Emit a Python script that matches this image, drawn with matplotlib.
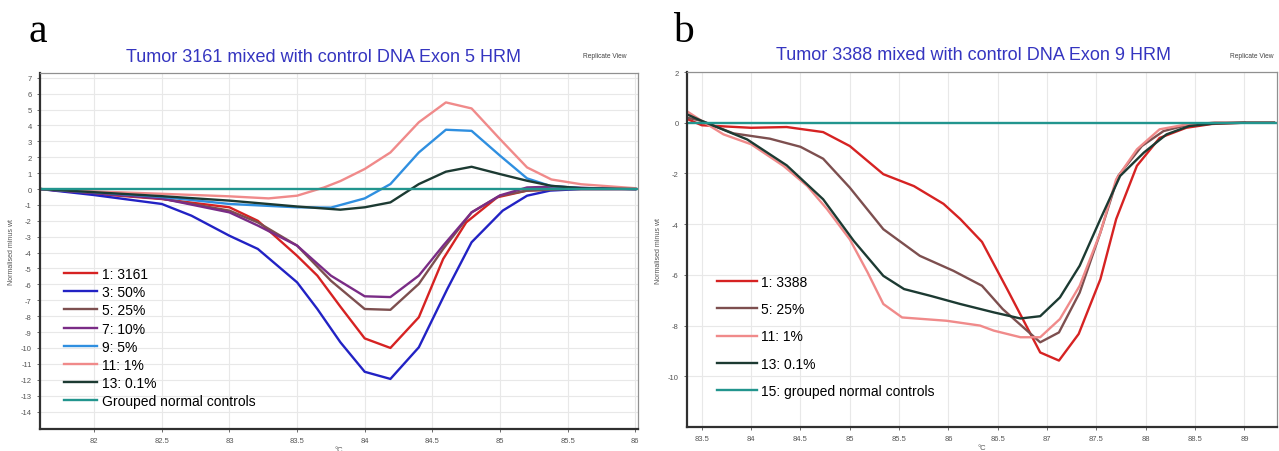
import matplotlib
matplotlib.use('Agg')
import matplotlib.pyplot as plt
import numpy as np

plt.rcParams['font.family'] = ['Liberation Sans', 'DejaVu Sans']
plt.rcParams['axes.unicode_minus'] = False

# ---- panel a: Exon 5 ----
a_t1 = [81.6, 82.0, 82.5, 83.0, 83.21, 83.5, 83.65, 83.82, 84.0, 84.19, 84.40, 84.58, 84.75, 84.98, 85.2, 85.5, 86.0]
a_v1 = [0, -0.3, -0.63, -1.15, -2.0, -4.2, -5.45, -7.4, -9.4, -10.0, -8.07, -4.4, -2.1, -0.52, -0.1, 0, 0]
a_t3 = [81.6, 82.0, 82.5, 82.72, 83.0, 83.21, 83.5, 83.65, 83.82, 84.0, 84.19, 84.40, 84.61, 84.79, 85.02, 85.2, 85.37, 85.6, 86.0]
a_v3 = [0, -0.38, -0.94, -1.68, -2.94, -3.77, -5.87, -7.55, -9.64, -11.5, -11.95, -9.96, -6.3, -3.35, -1.36, -0.42, -0.1, 0, 0]
a_t5 = [81.6, 82.0, 82.5, 83.0, 83.21, 83.5, 83.75, 84.0, 84.19, 84.40, 84.58, 84.79, 85.0, 85.2, 85.5, 86.0]
a_v5 = [0, -0.25, -0.6, -1.36, -2.1, -3.56, -5.77, -7.55, -7.6, -5.97, -3.77, -1.47, -0.42, -0.1, 0, 0]
a_t7 = [81.6, 82.0, 82.5, 83.0, 83.21, 83.5, 83.75, 84.0, 84.19, 84.40, 84.58, 84.79, 85.0, 85.2, 85.4, 85.7, 86.0]
a_v7 = [0, -0.25, -0.6, -1.47, -2.3, -3.56, -5.45, -6.75, -6.8, -5.45, -3.56, -1.47, -0.4, 0.1, 0.15, 0.05, 0]
a_t9 = [81.6, 82.0, 82.5, 83.0, 83.5, 83.75, 84.0, 84.19, 84.40, 84.6, 84.79, 85.0, 85.2, 85.37, 85.6, 86.0]
a_v9 = [0, -0.2, -0.5, -0.94, -1.15, -1.17, -0.59, 0.31, 2.3, 3.73, 3.66, 2.1, 0.67, 0.2, 0.05, 0]
a_t11 = [81.6, 82.0, 82.5, 83.0, 83.29, 83.5, 83.7, 83.82, 84.0, 84.19, 84.40, 84.6, 84.79, 85.0, 85.2, 85.38, 85.6, 86.0]
a_v11 = [0, -0.15, -0.3, -0.46, -0.59, -0.42, 0.1, 0.5, 1.26, 2.3, 4.2, 5.45, 5.07, 3.14, 1.36, 0.6, 0.3, 0.05]
a_t13 = [81.6, 82.0, 82.5, 83.0, 83.5, 83.82, 84.0, 84.19, 84.40, 84.6, 84.79, 85.0, 85.2, 85.38, 85.6, 86.0]
a_v13 = [0, -0.2, -0.45, -0.73, -1.1, -1.3, -1.15, -0.84, 0.31, 1.09, 1.4, 0.94, 0.52, 0.2, 0.05, 0]
a_tc = [81.6, 86.02]
a_vc = [0, 0]
a_labels = ['1: 3161', '3: 50%', '5: 25%', '7: 10%', '9: 5%', '11: 1%', '13: 0.1%', 'Grouped normal controls']

# ---- panel b: Exon 9 ----
b_t1 = [83.35, 83.5, 84.0, 84.36, 84.73, 85.0, 85.34, 85.65, 85.95, 86.12, 86.34, 86.6, 86.93, 87.12, 87.32, 87.54, 87.7, 87.91, 88.14, 88.41, 88.67, 89.0, 89.3]
b_v1 = [0.15, -0.1, -0.2, -0.17, -0.37, -0.92, -2.03, -2.5, -3.2, -3.8, -4.7, -6.6, -9.06, -9.38, -8.33, -6.17, -3.8, -1.7, -0.6, -0.2, -0.05, 0, 0]
b_t5 = [83.35, 83.5, 83.82, 84.19, 84.5, 84.73, 85.0, 85.34, 85.71, 86.05, 86.34, 86.55, 86.93, 87.12, 87.33, 87.54, 87.72, 87.96, 88.18, 88.41, 88.7, 89.0]
b_v5 = [0.2, 0.07, -0.42, -0.63, -0.95, -1.42, -2.56, -4.2, -5.25, -5.84, -6.43, -7.35, -8.66, -8.27, -6.7, -4.33, -2.1, -0.92, -0.33, -0.1, 0, 0]
b_t11 = [83.35, 83.5, 83.72, 84.0, 84.33, 84.57, 84.77, 85.0, 85.18, 85.34, 85.53, 85.98, 86.32, 86.46, 86.73, 86.93, 87.13, 87.33, 87.54, 87.7, 87.91, 88.14, 88.41, 88.7, 89.0]
b_v11 = [0.45, 0.07, -0.46, -0.85, -1.71, -2.5, -3.41, -4.6, -5.9, -7.15, -7.68, -7.81, -8.0, -8.2, -8.46, -8.46, -7.74, -6.43, -4.33, -2.23, -1.05, -0.26, -0.07, 0, 0]
b_t13 = [83.35, 83.5, 83.96, 84.36, 84.73, 85.04, 85.34, 85.55, 85.82, 86.12, 86.46, 86.73, 86.93, 87.13, 87.33, 87.54, 87.74, 87.98, 88.21, 88.44, 88.7, 89.0, 89.3]
b_v13 = [0.33, 0.07, -0.66, -1.68, -3.02, -4.66, -6.04, -6.56, -6.83, -7.15, -7.48, -7.72, -7.63, -6.89, -5.64, -3.8, -2.1, -1.18, -0.46, -0.13, -0.03, 0, 0]
b_tc = [83.35, 89.33]
b_vc = [0, 0]
b_labels = ['1: 3388', '5: 25%', '11: 1%', '13: 0.1%', '15: grouped normal controls']

c_red = '#d62222'
c_blue = '#2222c4'
c_brown = '#7d4f4f'
c_purple = '#7a2c86'
c_lblue = '#2f8fe0'
c_pink = '#f08a8a'
c_dark = '#1c3a32'
c_teal = '#22958e'

W, H = 1279, 452
fig = plt.figure(figsize=(W / 100, H / 100), dpi=100)


def style_axes(ax):
    for s in ['bottom', 'left']:
        ax.spines[s].set_color('#303030')
        ax.spines[s].set_linewidth(1.6)
    for s in ['top', 'right']:
        ax.spines[s].set_color('#909090')
        ax.spines[s].set_linewidth(0.9)
    ax.tick_params(labelsize=5.5, colors='#555555', length=2.5, width=0.6)
    ax.grid(True, color='#e8e8e8', linewidth=0.8)
    ax.set_axisbelow(True)


# panel a
ax1 = fig.add_axes([40 / W, 1 - 430 / H, 598 / W, 356 / H])
style_axes(ax1)
lw = 1.7
ax1.plot(a_t1, a_v1, color=c_red, lw=lw, label=a_labels[0])
ax1.plot(a_t3, a_v3, color=c_blue, lw=lw, label=a_labels[1])
ax1.plot(a_t5, a_v5, color=c_brown, lw=lw, label=a_labels[2])
ax1.plot(a_t7, a_v7, color=c_purple, lw=lw, label=a_labels[3])
ax1.plot(a_t9, a_v9, color=c_lblue, lw=lw, label=a_labels[4])
ax1.plot(a_t11, a_v11, color=c_pink, lw=lw, label=a_labels[5])
ax1.plot(a_t13, a_v13, color=c_dark, lw=lw, label=a_labels[6])
ax1.plot(a_tc, a_vc, color=c_teal, lw=lw, label=a_labels[7])
ax1.set_xlim(81.6, 86.02)
ax1.set_ylim(-15.1, 7.3)
ax1.set_xticks(np.arange(82, 86.01, 0.5))
ax1.set_xticklabels(['82', '82.5', '83', '83.5', '84', '84.5', '85', '85.5', '86'])
ax1.set_yticks(np.arange(-14, 7.5, 1))
ax1.set_xlabel('°C', fontsize=5.5, color='#555555', labelpad=1)
ax1.set_ylabel('Normalised minus wt', fontsize=5, color='#555555', labelpad=4)
ax1.legend(loc='upper left', bbox_to_anchor=(64 / W, 1 - 268 / H), bbox_transform=fig.transFigure,
           frameon=False, fontsize=10, handlelength=2.4, handletextpad=0.3, labelspacing=0.3,
           borderpad=0, borderaxespad=0)

# panel b
ax2 = fig.add_axes([687 / W, 1 - 428 / H, 590 / W, 355 / H])
style_axes(ax2)
ax2.plot(b_t1, b_v1, color=c_red, lw=lw, label=b_labels[0])
ax2.plot(b_t5, b_v5, color=c_brown, lw=lw, label=b_labels[1])
ax2.plot(b_t11, b_v11, color=c_pink, lw=lw, label=b_labels[2])
ax2.plot(b_t13, b_v13, color=c_dark, lw=lw, label=b_labels[3])
ax2.plot(b_tc, b_vc, color=c_teal, lw=lw, label=b_labels[4])
ax2.set_xlim(83.35, 89.33)
ax2.set_ylim(-12, 2)
ax2.set_xticks(np.arange(83.5, 89.01, 0.5))
ax2.set_xticklabels(['83.5', '84', '84.5', '85', '85.5', '86', '86.5', '87', '87.5', '88', '88.5', '89'])
ax2.set_yticks(np.arange(-10, 2.5, 2))
ax2.set_xlabel('°C', fontsize=5.5, color='#555555', labelpad=1)
ax2.set_ylabel('Normalised minus wt', fontsize=5, color='#555555', labelpad=4)
ax2.legend(loc='upper left', bbox_to_anchor=(717 / W, 1 - 276 / H), bbox_transform=fig.transFigure,
           frameon=False, fontsize=10, handlelength=2.9, handletextpad=0.3, labelspacing=0.95,
           borderpad=0, borderaxespad=0)

# titles and labels
fig.text(323 / W, 1 - 58 / H, 'Tumor 3161 mixed with control DNA Exon 5 HRM', ha='center', va='center',
         fontsize=13, color='#3535c0')
fig.text(973 / W, 1 - 56 / H, 'Tumor 3388 mixed with control DNA Exon 9 HRM', ha='center', va='center',
         fontsize=13, color='#3535c0')
fig.text(605 / W, 1 - 57 / H, 'Replicate View', ha='center', va='center', fontsize=4.8, color='#444444')
fig.text(1230 / W, 1 - 57 / H, 'Replicate View', ha='left', va='center', fontsize=4.8, color='#444444')
fig.text(28 / W, 1 - 32 / H, 'a', ha='left', va='center', fontsize=30, family='Liberation Serif')
fig.text(673 / W, 1 - 32 / H, 'b', ha='left', va='center', fontsize=30, family='Liberation Serif')

fig.savefig('out.png', dpi=100)
